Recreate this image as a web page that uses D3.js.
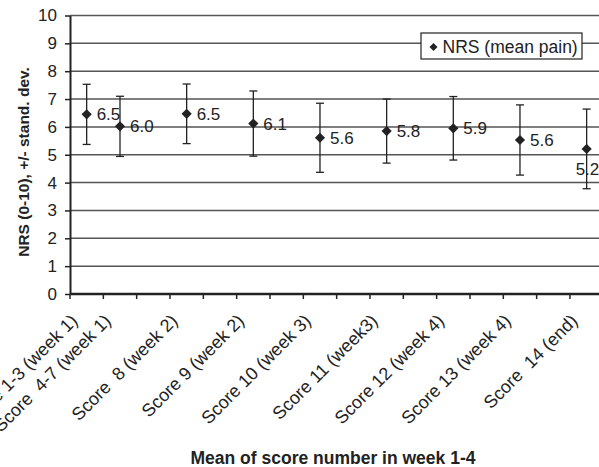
<!DOCTYPE html>
<html>
<head>
<meta charset="utf-8">
<script src="https://cdn.jsdelivr.net/npm/d3@7"></script>
<style>
    body { margin: 0; background: #fff; }
    svg { display: block; }
    text { font-family: "Liberation Sans", Arial, Helvetica, sans-serif; }
    .tick-label { white-space: pre; }
</style>
</head>
<body>
<svg id="chart" width="599" height="467"></svg>
<script>
// Category slots on the x axis (Excel sheet had blank rows between weeks)
const categories = ['Score 1-3 (week 1)', 'Score  4-7 (week 1)', '', 'Score  8 (week 2)', '',
    'Score 9 (week 2)', '', 'Score 10 (week 3)', '', 'Score 11 (week3)', '',
    'Score 12 (week 4)', '', 'Score 13 (week 4)', '', 'Score  14 (end)'];
const meanPain = [6.45, 6.02, null, 6.47, null, 6.12, null, 5.61, null, 5.85, null, 5.95, null, 5.53, null, 5.21];
const sdPain = [1.08, 1.08, null, 1.07, null, 1.17, null, 1.24, null, 1.15, null, 1.14, null, 1.26, null, 1.43];
const meanLabels = ['6.5', '6.0', '', '6.5', '', '6.1', '', '5.6', '', '5.8', '', '5.9', '', '5.6', '', '5.2'];
const yTicks = [0, 1, 2, 3, 4, 5, 6, 7, 8, 9, 10];
const legendLabel = 'NRS (mean pain)';

const svg = d3.select('#chart');
const margin = { left: 70, top: 15.5, bottom: 294 };

const x = d3.scaleBand()
    .domain(d3.range(categories.length))
    .range([margin.left, 603.3]);

const y = d3.scaleLinear()
    .domain([0, 10])
    .range([margin.bottom, margin.top]);

const ink = '#222';

// gridlines
svg.append('g')
    .selectAll('line')
    .data(yTicks.filter(d => d > 0))
    .enter().append('line')
    .attr('x1', margin.left).attr('x2', 599)
    .attr('y1', d => y(d)).attr('y2', d => y(d))
    .attr('stroke', '#555')
    .attr('stroke-width', 1.5);

// y axis
const yAxis = svg.append('g')
    .attr('transform', `translate(${margin.left},0)`)
    .call(d3.axisLeft(y).tickValues(yTicks).tickSize(5).tickPadding(8).tickSizeOuter(0));
yAxis.select('.domain').attr('stroke', ink).attr('stroke-width', 2);
yAxis.selectAll('.tick line').attr('stroke', ink).attr('stroke-width', 1.5);
yAxis.selectAll('.tick text')
    .attr('font-size', 17)
    .attr('fill', ink)
    .attr('font-family', '"Liberation Sans", Arial, sans-serif');

// x axis line and ticks at slot boundaries
svg.append('line')
    .attr('x1', margin.left).attr('x2', 599)
    .attr('y1', y(0)).attr('y2', y(0))
    .attr('stroke', ink).attr('stroke-width', 2.5);

svg.append('g')
    .selectAll('line')
    .data(d3.range(categories.length + 1))
    .enter().append('line')
    .attr('x1', d => margin.left + d * x.step())
    .attr('x2', d => margin.left + d * x.step())
    .attr('y1', y(0)).attr('y2', y(0) + 5)
    .attr('stroke', ink).attr('stroke-width', 1.5);

// x tick labels, rotated
svg.append('g')
    .selectAll('text')
    .data(categories.map((c, i) => ({ c, i })).filter(d => d.c !== ''))
    .enter().append('text')
    .attr('class', 'tick-label')
    .attr('transform', d => `translate(${x(d.i) + x.bandwidth() / 2 - 8},${y(0) + 28}) rotate(-45)`)
    .attr('text-anchor', 'end')
    .attr('font-size', 18)
    .attr('fill', ink)
    .text(d => d.c);

// data
const points = meanPain.map((m, i) => ({ i, m, sd: sdPain[i], label: meanLabels[i] }))
    .filter(d => d.m !== null);

const cx = d => x(d.i) + x.bandwidth() / 2;

const bars = svg.append('g');
bars.selectAll('.err')
    .data(points)
    .enter().append('line')
    .attr('x1', cx).attr('x2', cx)
    .attr('y1', d => y(d.m + d.sd)).attr('y2', d => y(d.m - d.sd))
    .attr('stroke', ink).attr('stroke-width', 1.3);

[1, -1].forEach(sign => {
    bars.selectAll('.cap' + sign)
        .data(points)
        .enter().append('line')
        .attr('x1', d => cx(d) - 4).attr('x2', d => cx(d) + 4)
        .attr('y1', d => y(d.m + sign * d.sd)).attr('y2', d => y(d.m + sign * d.sd))
        .attr('stroke', ink).attr('stroke-width', 1.3);
});

const diamond = d3.symbol(d3.symbolSquare, 52);
svg.append('g')
    .selectAll('path')
    .data(points)
    .enter().append('path')
    .attr('d', diamond)
    .attr('transform', d => `translate(${cx(d)},${y(d.m)}) rotate(45)`)
    .attr('fill', ink);

// value labels (last one sits below the marker, like in the original)
const last = points[points.length - 1];
svg.append('g')
    .selectAll('text')
    .data(points)
    .enter().append('text')
    .attr('x', d => d === last ? cx(d) - 11 : cx(d) + 10)
    .attr('y', d => d === last ? y(d.m) + 26 : y(d.m) + 6)
    .attr('font-size', 17)
    .attr('fill', ink)
    .text(d => d.label);

// legend
const legend = svg.append('g').attr('transform', 'translate(421,33)');
legend.append('rect')
    .attr('width', 161).attr('height', 26)
    .attr('fill', '#fff')
    .attr('stroke', ink).attr('stroke-width', 1.2);
legend.append('path')
    .attr('d', d3.symbol(d3.symbolSquare, 32))
    .attr('transform', 'translate(12.5,14) rotate(45)')
    .attr('fill', ink);
legend.append('text')
    .attr('x', 21.5).attr('y', 19.5)
    .attr('font-size', 17.5)
    .attr('fill', ink)
    .text(legendLabel);

// axis titles
svg.append('text')
    .attr('x', 333).attr('y', 464)
    .attr('text-anchor', 'middle')
    .attr('font-size', 17.5)
    .attr('font-weight', 'bold')
    .attr('fill', ink)
    .text('Mean of score number in week 1-4');

svg.append('text')
    .attr('transform', 'translate(29,162) rotate(-90)')
    .attr('text-anchor', 'middle')
    .attr('font-size', 15.5)
    .attr('font-weight', 'bold')
    .attr('fill', ink)
    .text('NRS (0-10), +/- stand. dev.');
</script>
</body>
</html>
